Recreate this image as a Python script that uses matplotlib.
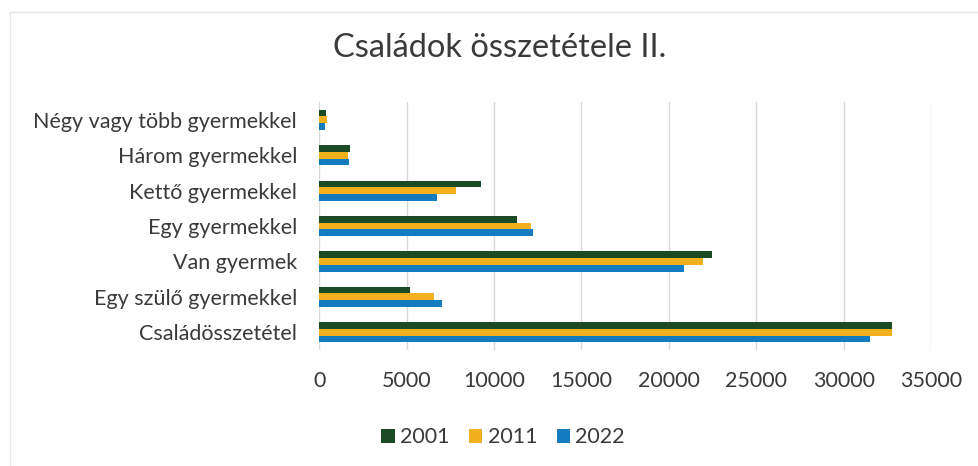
import matplotlib
matplotlib.use("Agg")
import matplotlib.pyplot as plt
import numpy as np
from matplotlib.patches import Rectangle

categories = ["Családösszetétel", "Egy szülő gyermekkel", "Van gyermek",
              "Egy gyermekkel", "Kettő gyermekkel", "Három gyermekkel",
              "Négy vagy több gyermekkel"]
years = ["2001", "2011", "2022"]
v2001 = [32770, 5210, 22470, 11310, 9230, 1750, 380]
v2011 = [32750, 6590, 21970, 12100, 7850, 1650, 450]
v2022 = [31500, 7050, 20880, 12230, 6750, 1690, 330]
xticks = [0, 5000, 10000, 15000, 20000, 25000, 30000, 35000]

colors = ["#1c4a24", "#f2b01e", "#137bbf"]
text_color = "#3a3a3a"

plt.rcParams['font.family'] = ['Lato', 'DejaVu Sans']

fig = plt.figure(figsize=(9.79, 4.66), dpi=100)
fig.patch.set_facecolor("white")
ax = fig.add_axes([0.326, 0.249, 0.625, 0.532])

y = np.arange(len(categories))
h = 0.19
series = [v2001, v2011, v2022]
offsets = [h, 0, -h]
for vals, off, c, lab in zip(series, offsets, colors, years):
    ax.barh(y + off, vals, height=h, color=c, label=lab, zorder=3)

ax.set_xlim(0, 35000)
ax.set_ylim(-0.5, len(categories) - 0.5)
ax.set_xticks(xticks)
ax.set_xticklabels([str(t) for t in xticks])
ax.set_yticks(y)
ax.set_yticklabels(categories)
for s in ax.spines.values():
    s.set_visible(False)
ax.grid(axis="x", color="#d9d9d9", linewidth=1, zorder=0)
ax.tick_params(axis="both", length=0, labelsize=15.5, colors=text_color)
ax.tick_params(axis="x", pad=15)
ax.tick_params(axis="y", pad=16)

fig.text(0.510, 0.897, "Családok összetétele II.", ha="center", va="center",
         fontsize=23.5, color=text_color)

leg = fig.legend(loc="center", bbox_to_anchor=(0.514, 0.062), ncol=3, frameon=False,
                 fontsize=15.5, handlelength=0.62, handleheight=0.62,
                 handletextpad=0.25, columnspacing=0.9)
for t in leg.get_texts():
    t.set_color(text_color)

fig.patches.append(Rectangle((10 / 979, -0.01), 1.0, 1 - 12 / 466 + 0.01,
                             transform=fig.transFigure, fill=False,
                             edgecolor="#e6e6e6", linewidth=1))

fig.savefig("out.png", dpi=100, facecolor="white")
